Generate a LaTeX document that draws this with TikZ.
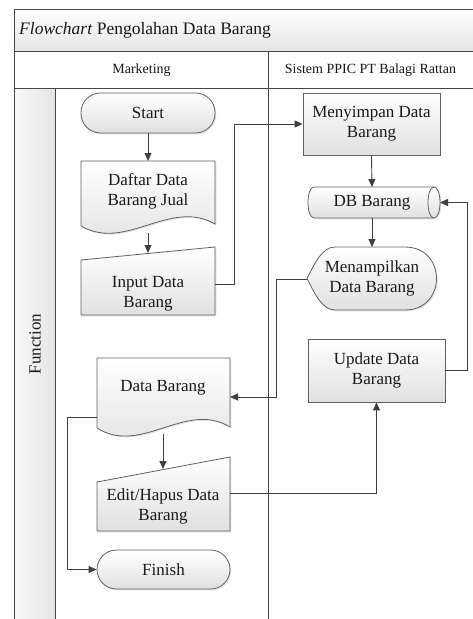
\documentclass[tikz,border=0pt]{standalone}
\usepackage{fontspec}
\setmainfont{Liberation Serif}
\usetikzlibrary{arrows.meta,shadows}
\begin{document}
\begin{tikzpicture}[x=1pt,y=-1pt,
  frame/.style={draw=black!72,line width=0.9pt},
  link/.style={draw=black!75,line width=0.9pt},
  flow/.style={link,-{Triangle[length=8pt,width=7pt]}},
  shp/.style={draw=black!62,line width=0.8pt,top color=white,bottom color=black!12,
    drop shadow={shadow xshift=1.3pt,shadow yshift=-1.3pt,opacity=0.22}},
  txt/.style={font=\fontsize{17}{20}\selectfont,align=center,inner sep=0pt,text=black!90},
  hdr/.style={font=\fontsize{14}{16}\selectfont,inner sep=0pt,text=black!90},
  terminal/.style={shp,txt,rounded corners=19.5pt,minimum width=134pt,minimum height=40pt},
  process/.style={shp,txt,minimum width=137pt,minimum height=62pt}
]
\useasboundingbox (0,0) rectangle (473,619);

% ---- swimlane frame ----
\shade[top color=white,bottom color=black!10] (14,9) rectangle (473,51);
\shade[left color=black!3,middle color=white,right color=black!10] (14,88) rectangle (55,619);
\draw[frame] (473,9) -- (14,9) -- (14,619);
\draw[frame] (14,51) -- (473,51);
\draw[frame] (14,88) -- (473,88);
\draw[frame] (55,88) -- (55,619);
\draw[frame] (268,51) -- (268,619);

\node[anchor=west,font=\fontsize{17.5}{20}\selectfont,inner sep=0pt,text=black!90] (title) at (19,30)
  {\textit{Flowchart} Pengolahan Data Barang};
\node[hdr] (laneA) at (141.5,70) {Marketing};
\node[hdr] (laneB) at (370.5,70) {Sistem PPIC PT Balagi Rattan};
\node[txt,rotate=90] (func) at (35,344) {Function};

% ---- Marketing lane ----
\node[terminal] (start) at (148,113) {Start};

% document: Daftar Data Barang Jual
\path[shp] (81,161) -- (215,161) -- (215,224)
  .. controls (170,198) and (126,252) .. (81,226) -- cycle;
\node[txt] (daftar) at (148,191) {Daftar Data\\Barang Jual};
\coordinate (daftar-b) at (148,233);

% manual input: Input Data Barang
\path[shp] (81,260) -- (215,247) -- (215,315) -- (81,315) -- cycle;
\node[txt] (input) at (148,294) {Input Data\\Barang};
\coordinate (input-t) at (148,253);
\coordinate (input-r) at (215,284);

% document: Data Barang
\path[shp] (97,358) -- (230,358) -- (230,427)
  .. controls (186,400) and (141,456) .. (97,428) -- cycle;
\node[txt] (data) at (163,388) {Data Barang};
\coordinate (data-b) at (163,434);
\coordinate (data-r) at (230,397);
\coordinate (data-l) at (97,417);

% manual input: Edit/Hapus Data Barang
\path[shp] (97,482) -- (230,457) -- (230,531) -- (97,531) -- cycle;
\node[txt] (edit) at (163,506) {Edit/Hapus Data\\Barang};
\coordinate (edit-t) at (163,469);
\coordinate (edit-r) at (230,493);

\node[terminal,minimum width=133pt,minimum height=39pt] (finish) at (163.5,569.5) {Finish};

% ---- PPIC lane ----
\node[process] (simpan) at (371.5,124) {Menyimpan Data\\Barang};

% stored data: DB Barang
\path[shp] (314,187) -- (434,187) .. controls (442,187) and (442,218) .. (434,218)
  -- (314,218) .. controls (306,218) and (306,187) .. (314,187) -- cycle;
\draw[draw=black!62,line width=0.8pt] (434,187) .. controls (426,187) and (426,218) .. (434,218);
\node[txt] (db) at (372,202.5) {DB Barang};
\coordinate (db-t) at (372,187);
\coordinate (db-b) at (372,218);
\coordinate (db-r) at (440,202.5);

% display: Menampilkan Data Barang
\path[shp] (307,278.5) .. controls (315,263) and (322,247) .. (335,247) -- (405,247)
  .. controls (447,247) and (447,310) .. (405,310) -- (335,310)
  .. controls (322,310) and (315,294) .. (307,278.5) -- cycle;
\node[txt] (tampil) at (372,278) {Menampilkan\\Data Barang};
\coordinate (tampil-t) at (372,247);
\coordinate (tampil-l) at (307,279);

\node[process,minimum height=63pt] (update) at (376.5,370.5) {Update Data\\Barang};

% ---- connectors ----
\draw[flow] (start.south) -- (daftar.north |- 0,161);
\draw[flow] (daftar-b) -- (input-t);
\draw[flow] (input-r) -- ++(19,0) |- (simpan.west);
\draw[flow] (simpan.south) -- (db-t);
\draw[flow] (db-b) -- (tampil-t);
\draw[flow] (tampil-l) -- ++(-31,0) |- (data-r);
\draw[flow] (update.east) -- ++(22,0) |- (db-r);
\draw[flow] (data-b) -- (edit-t);
\draw[flow] (edit-r) -| (update.south);
\draw[flow] (data-l) -- ++(-30,0) |- (finish.west);
\end{tikzpicture}
\end{document}
